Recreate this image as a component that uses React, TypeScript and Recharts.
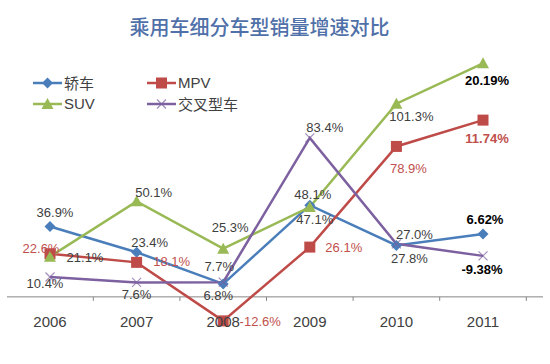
import { LineChart, Line, XAxis, YAxis, ReferenceLine, LabelList, Legend } from 'recharts';

const YEARS = ['2006', '2007', '2008', '2009', '2010', '2011'];

// plotted positions (2011 points sit on their own scale in the original)
const SEDAN = [36.9, 23.4, 6.8, 48.1, 27.0, 33];
const MPV = [22.6, 18.1, -12.6, 26.1, 78.9, 92.7];
const SUV = [21.1, 50.1, 25.3, 47.1, 101.3, 122.5];
const CROSS = [10.4, 7.6, 7.7, 83.4, 27.8, 21.5];

const SEDAN_LABELS = ['36.9%', '23.4%', '6.8%', '48.1%', '27.0%', '6.62%'];
const MPV_LABELS = ['22.6%', '18.1%', '-12.6%', '26.1%', '78.9%', '11.74%'];
const SUV_LABELS = ['21.1%', '50.1%', '25.3%', '47.1%', '101.3%', '20.19%'];
const CROSS_LABELS = ['10.4%', '7.6%', '7.7%', '83.4%', '27.8%', '-9.38%'];

const data = YEARS.map((year, i) => ({
  year,
  sedan: SEDAN[i],
  mpv: MPV[i],
  suv: SUV[i],
  cross: CROSS[i],
}));

const W = 550;
const H = 364;
const MARGIN = { top: 49, right: 7, bottom: 9, left: 7 };
const AXIS_H = 20;
const Y_MIN = -20;
const Y_MAX = 130;
const PAD = { left: 43, right: 60 };
const PLOT_H = H - MARGIN.top - MARGIN.bottom - AXIS_H;
const ZERO_FROM_BOTTOM = ((0 - Y_MIN) / (Y_MAX - Y_MIN)) * PLOT_H;
const STEP = (W - MARGIN.left - MARGIN.right - PAD.left - PAD.right) / (YEARS.length - 1);

const FONT = '"Liberation Sans", Arial, sans-serif';
const CJK = '"Noto Sans CJK SC", sans-serif';
const TEXT = '#404040';

// label offsets from the point, per series (dx, dy)
const SEDAN_OFF = [[5, -14], [13, -10], [-5, 12], [3, -11], [18, -11], [2, -14]];
const MPV_OFF = [[-9, -5], [35, -1], [37, 1], [34, 0], [12, 22], [4, 18]];
const SUV_OFF = [[35, 1], [17, -9], [7, -21], [5, 12], [15, 13], [4, 17]];
const CROSS_OFF = [[-5, 6], [0, 12], [-4, -16], [15, -10], [13, 15], [-1, 14]];

const SERIES = [
  { key: 'sedan', name: '轿车', color: '#4a7ebb', shape: 'diamond', labels: SEDAN_LABELS, off: SEDAN_OFF, labelColor: TEXT },
  { key: 'mpv', name: 'MPV', color: '#be4b48', shape: 'square', labels: MPV_LABELS, off: MPV_OFF, labelColor: '#c0504d' },
  { key: 'suv', name: 'SUV', color: '#98b954', shape: 'triangle', labels: SUV_LABELS, off: SUV_OFF, labelColor: TEXT },
  { key: 'cross', name: '交叉型车', color: '#7d60a0', shape: 'cross', labels: CROSS_LABELS, off: CROSS_OFF, labelColor: TEXT },
];

function Marker({ cx, cy, shape, color }: { cx: number; cy: number; shape: string; color: string }) {
  if (cx == null || cy == null) return null;
  if (shape === 'diamond') {
    const r = 5.5;
    return <polygon points={`${cx},${cy - r} ${cx + r},${cy} ${cx},${cy + r} ${cx - r},${cy}`} fill={color} />;
  }
  if (shape === 'square') {
    return <rect x={cx - 5.5} y={cy - 5.5} width={11} height={11} fill={color} />;
  }
  if (shape === 'triangle') {
    return <polygon points={`${cx},${cy - 6} ${cx + 6},${cy + 5} ${cx - 6},${cy + 5}`} fill={color} />;
  }
  const r = 4.5;
  return (
    <g stroke={color} strokeWidth={1.2} opacity={0.7}>
      <line x1={cx - r} y1={cy - r} x2={cx + r} y2={cy + r} />
      <line x1={cx - r} y1={cy + r} x2={cx + r} y2={cy - r} />
    </g>
  );
}

function YearTick({ x, y, payload }: any) {
  const zeroY = y - ZERO_FROM_BOTTOM;
  const tx = x + STEP / 2;
  return (
    <g>
      <line x1={tx} y1={zeroY} x2={tx} y2={zeroY + 4} stroke="#868686" />
      <text x={x} y={zeroY + 25} textAnchor="middle" dominantBaseline="central" fontSize={15} fontFamily={FONT} fill={TEXT}>
        {payload.value}
      </text>
    </g>
  );
}

function LegendBox() {
  return (
    <div style={{ display: 'grid', gridTemplateColumns: '114px 110px', rowGap: 3 }}>
      {SERIES.map((s) => (
        <div key={s.key} style={{ display: 'flex', alignItems: 'center', height: 18 }}>
          <svg width={31} height={14}>
            <line x1={0} y1={7} x2={29} y2={7} stroke={s.color} strokeWidth={2.5} />
            <Marker cx={14.5} cy={7} shape={s.shape} color={s.color} />
          </svg>
          <span style={{ fontFamily: s.key === 'mpv' || s.key === 'suv' ? FONT : CJK, fontSize: 15, color: TEXT, lineHeight: '18px' }}>
            {s.name}
          </span>
        </div>
      ))}
    </div>
  );
}

export default function App() {
  return (
    <div style={{ position: 'absolute', left: 0, top: 0, width: W, height: H, background: '#fff' }}>
      <div
        style={{
          position: 'absolute',
          left: 0,
          width: 519,
          top: 15,
          textAlign: 'center',
          fontFamily: CJK,
          fontSize: 20,
          fontWeight: 500,
          color: '#4f70a8',
          lineHeight: '24px',
        }}
      >
        乘用车细分车型销量增速对比
      </div>
      <LineChart width={W} height={H} data={data} margin={MARGIN}>
        <XAxis
          dataKey="year"
          height={AXIS_H}
          axisLine={false}
          tickLine={false}
          tickSize={0}
          tickMargin={0}
          interval={0}
          padding={PAD}
          tick={<YearTick />}
        />
        <YAxis hide domain={[Y_MIN, Y_MAX]} />
        <ReferenceLine y={0} stroke="#868686" strokeWidth={1} />
        <Legend
          layout="vertical"
          align="center"
          verticalAlign="middle"
          wrapperStyle={{ left: 33, top: 74, width: 240 }}
          content={() => <LegendBox />}
        />
        {SERIES.map((s) => (
          <Line
            key={s.key}
            dataKey={s.key}
            name={s.name}
            stroke={s.color}
            strokeWidth={2.5}
            isAnimationActive={false}
            dot={(p: any) => <Marker key={`${s.key}-${p.index}`} cx={p.cx} cy={p.cy} shape={s.shape} color={s.color} />}
            activeDot={false}
          >
            <LabelList
              dataKey={s.key}
              content={(p: any) => {
                const o = s.off[p.index];
                const bold = p.index === YEARS.length - 1;
                return (
                  <text
                    x={p.x + o[0]}
                    y={p.y + o[1]}
                    textAnchor="middle"
                    dominantBaseline="central"
                    fontSize={13}
                    fontFamily={FONT}
                    fontWeight={bold ? 'bold' : 'normal'}
                    fill={bold && s.key !== 'mpv' ? '#000' : s.labelColor}
                  >
                    {s.labels[p.index]}
                  </text>
                );
              }}
            />
          </Line>
        ))}
      </LineChart>
    </div>
  );
}
